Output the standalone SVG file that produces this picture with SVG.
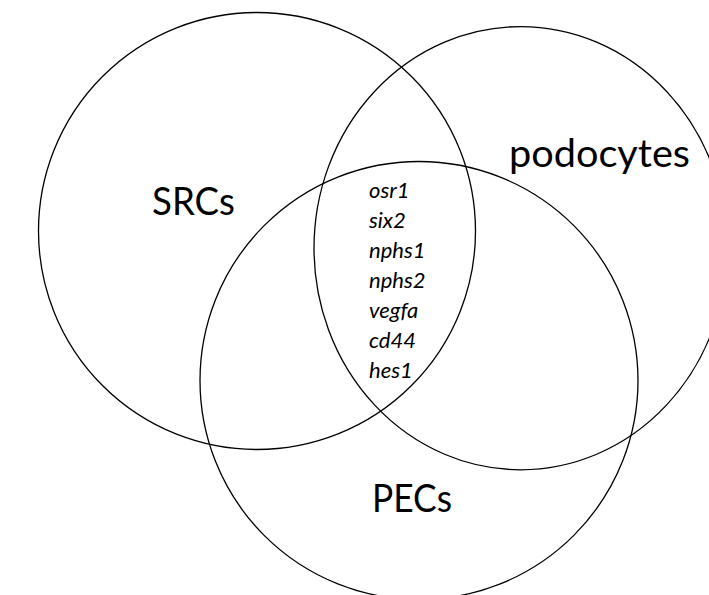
<svg xmlns="http://www.w3.org/2000/svg" width="709" height="595" viewBox="0 0 709 595">
  <style>
    .set { fill: none; stroke: #000; stroke-width: 1.3; }
    .label { font-family: Lato, "Open Sans", "Liberation Sans", sans-serif; font-size: 38px; fill: #000; }
    .gene { font-family: Lato, "Open Sans", "Liberation Sans", sans-serif; font-size: 22px; font-style: italic; fill: #000; }
  </style>
  <rect x="0" y="0" width="709" height="595" fill="#fff"/>
  <g id="srcs">
    <circle class="set" cx="257" cy="231" r="218.5"/>
    <text class="label" x="152" y="215" textLength="83" lengthAdjust="spacingAndGlyphs">SRCs</text>
  </g>
  <g id="podocytes">
    <ellipse class="set" cx="520.6" cy="248.2" rx="206.6" ry="221.6"/>
    <text class="label" x="509" y="166.5" textLength="181" lengthAdjust="spacingAndGlyphs">podocytes</text>
  </g>
  <g id="pecs">
    <circle class="set" cx="419" cy="380.5" r="219"/>
    <text class="label" x="372" y="512" textLength="80" lengthAdjust="spacingAndGlyphs">PECs</text>
  </g>
  <g id="shared-genes">
    <text class="gene" x="369" y="197.5">osr1</text>
    <text class="gene" x="369" y="227.5">six2</text>
    <text class="gene" x="369" y="257.5">nphs1</text>
    <text class="gene" x="369" y="287.5">nphs2</text>
    <text class="gene" x="369" y="317.5">vegfa</text>
    <text class="gene" x="369" y="347.5">cd44</text>
    <text class="gene" x="369" y="377.5">hes1</text>
  </g>
</svg>
